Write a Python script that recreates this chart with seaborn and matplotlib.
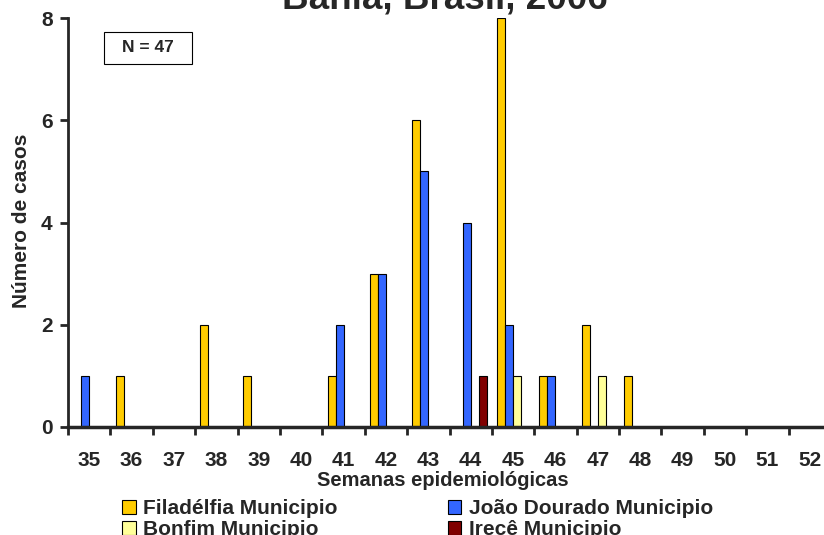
import matplotlib
matplotlib.use('Agg')
import matplotlib.pyplot as plt
import seaborn as sns
import pandas as pd
from matplotlib.patches import Patch, Rectangle

weeks = [str(w) for w in range(35, 53)]
filadelfia = [0, 1, 0, 2, 1, 0, 1, 3, 6, 0, 8, 1, 2, 1, 0, 0, 0, 0]
joao_dourado = [1, 0, 0, 0, 0, 0, 2, 3, 5, 4, 2, 1, 0, 0, 0, 0, 0, 0]
bonfim = [0, 0, 0, 0, 0, 0, 0, 0, 0, 0, 1, 0, 1, 0, 0, 0, 0, 0]
irece = [0, 0, 0, 0, 0, 0, 0, 0, 0, 1, 0, 0, 0, 0, 0, 0, 0, 0]

series = {
    'Filadélfia Municipio': filadelfia,
    'João Dourado Municipio': joao_dourado,
    'Bonfim Municipio': bonfim,
    'Irecê Municipio': irece,
}
colors = {
    'Filadélfia Municipio': '#FFCC00',
    'João Dourado Municipio': '#3366FF',
    'Bonfim Municipio': '#FFFF99',
    'Irecê Municipio': '#800000',
}

rows = []
for name, vals in series.items():
    for w, v in zip(weeks, vals):
        rows.append({'Semana': w, 'Casos': v, 'Municipio': name})
df = pd.DataFrame(rows)

sns.set_style('white')
plt.rcParams['font.family'] = ['Liberation Sans', 'DejaVu Sans']
plt.rcParams['font.weight'] = 'bold'

fig = plt.figure(figsize=(8.24, 5.35), dpi=100)
W, H = 824, 535
ax = fig.add_axes([68 / W, 108 / H, 763 / W, 409 / H])

sns.barplot(data=df, x='Semana', y='Casos', hue='Municipio', order=weeks,
            hue_order=list(series.keys()), palette=colors, width=0.755,
            edgecolor='black', linewidth=0.8, saturation=1, legend=False, ax=ax)

ax.set_xlim(-0.5, len(weeks) - 0.5)
ax.set_ylim(0, 8)
ax.set_yticks([0, 2, 4, 6, 8])
ax.set_xticks(range(len(weeks)))
ax.set_xticklabels(weeks)
ax.set_xticks([i - 0.5 for i in range(len(weeks) + 1)], minor=True)
ax.tick_params(axis='x', which='major', length=0, labelsize=15, pad=17)
ax.tick_params(axis='x', which='minor', length=6, width=2, direction='out', bottom=True)
ax.tick_params(axis='y', length=6, width=2, direction='out', left=True, labelsize=15, pad=5)
for lbl in ax.get_xticklabels() + ax.get_yticklabels():
    lbl.set_fontweight('bold')

for s in ['top', 'right']:
    ax.spines[s].set_visible(False)
ax.spines['left'].set_linewidth(2)
ax.spines['bottom'].set_linewidth(2.5)

ax.set_xlabel('Semanas epidemiológicas', fontsize=14.5, fontweight='bold', labelpad=0)
ax.xaxis.set_label_coords((443 - 68) / 763, -(481 - 427) / 409)
ax.xaxis.label.set_va('center')
ax.set_ylabel('Número de casos', fontsize=15, fontweight='bold')
ax.yaxis.set_label_coords(-(68 - 22) / 763, (427 - 221) / 409)
ax.yaxis.label.set_va('center')

fig.text(445 / W, 1 - 8 / H, 'Bahia, Brasil, 2006', ha='center', va='baseline',
         fontsize=26.5, fontweight='bold')

fig.patches.append(Rectangle((104 / W, 1 - 64 / H), 88 / W, 32 / H, transform=fig.transFigure,
                             facecolor='white', edgecolor='black', linewidth=0.8, zorder=5))
fig.text(148 / W, 1 - 48 / H, 'N = 47', ha='center', va='center', fontsize=12.5,
         fontweight='bold', zorder=6)

order = ['Filadélfia Municipio', 'Bonfim Municipio', 'João Dourado Municipio', 'Irecê Municipio']
handles = [Patch(facecolor=colors[k], edgecolor='black', linewidth=0.8, label=k) for k in order]
fig.legend(handles=handles, loc='upper left', bbox_to_anchor=(122 / W, 1 - 499 / H), ncol=2,
           frameon=False, handlelength=0.65, handleheight=0.65, handletextpad=0.35,
           labelspacing=0.1, columnspacing=5.3, borderpad=0, borderaxespad=0,
           prop={'weight': 'bold', 'size': 15})

fig.savefig('out.png', dpi=100)
